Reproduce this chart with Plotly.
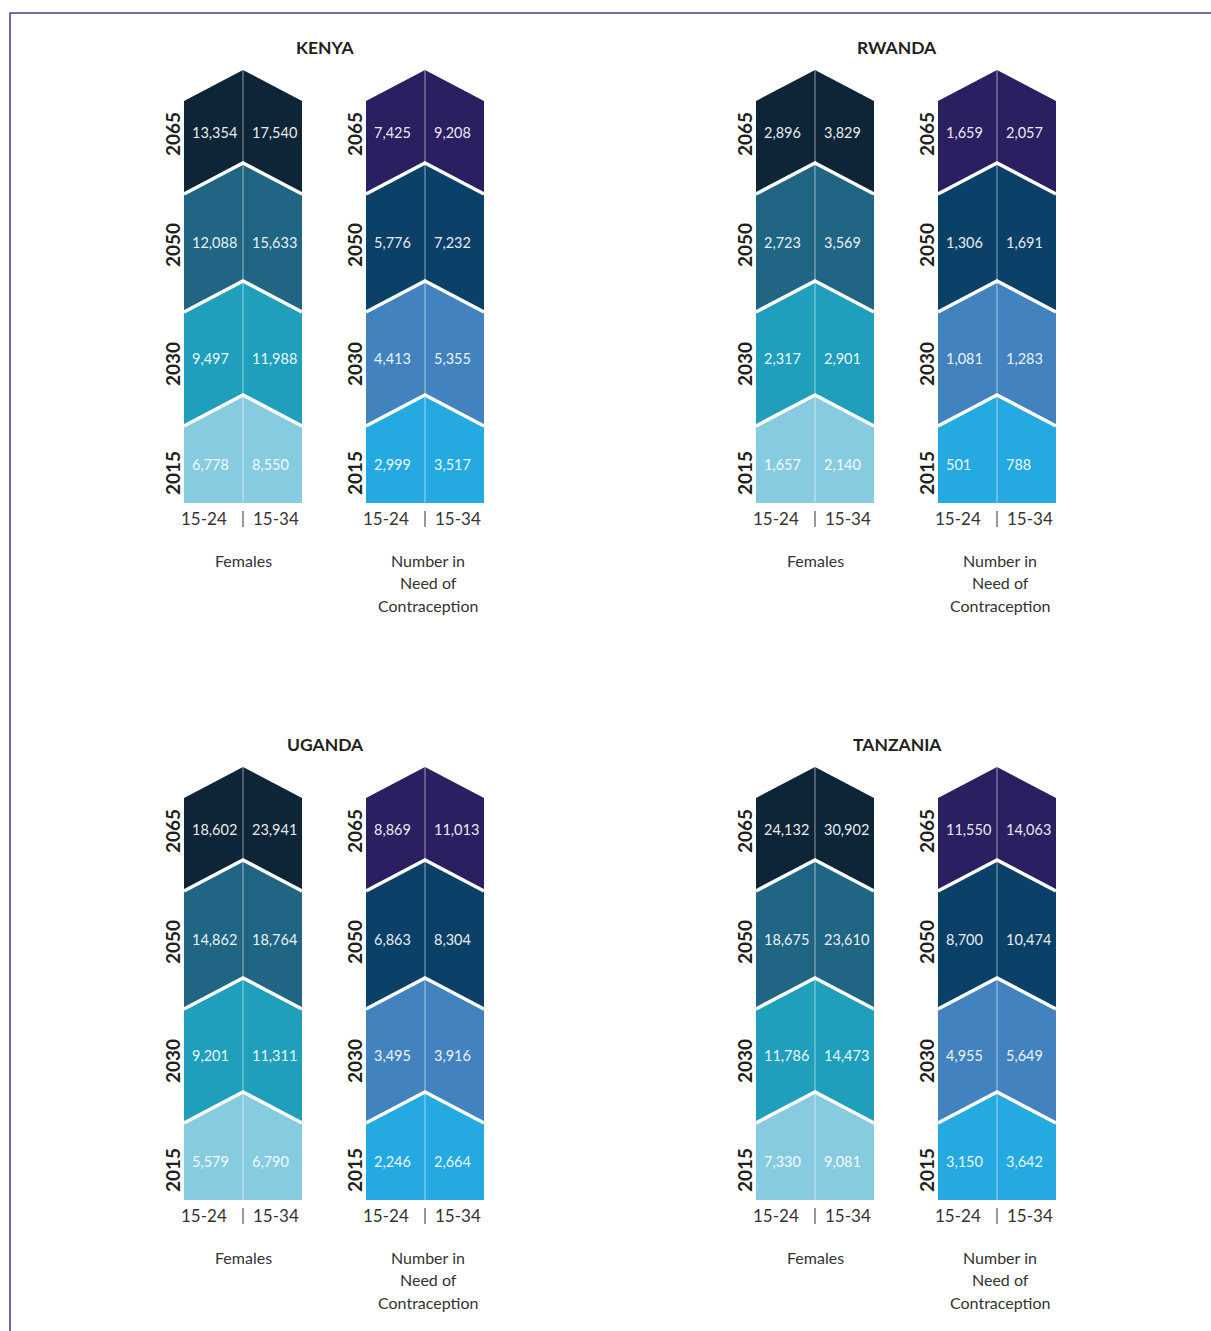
import plotly.graph_objects as go

# ---------------- data ----------------
countries = ["KENYA", "RWANDA", "UGANDA", "TANZANIA"]
years = ["2065", "2050", "2030", "2015"]
age_groups = ["15-24", "15-34"]
column_titles = ["Females", "Number in<br>Need of<br>Contraception"]

kenya_females_15_24 = [13354, 12088, 9497, 6778]
kenya_females_15_34 = [17540, 15633, 11988, 8550]
kenya_need_15_24 = [7425, 5776, 4413, 2999]
kenya_need_15_34 = [9208, 7232, 5355, 3517]

rwanda_females_15_24 = [2896, 2723, 2317, 1657]
rwanda_females_15_34 = [3829, 3569, 2901, 2140]
rwanda_need_15_24 = [1659, 1306, 1081, 501]
rwanda_need_15_34 = [2057, 1691, 1283, 788]

uganda_females_15_24 = [18602, 14862, 9201, 5579]
uganda_females_15_34 = [23941, 18764, 11311, 6790]
uganda_need_15_24 = [8869, 6863, 3495, 2246]
uganda_need_15_34 = [11013, 8304, 3916, 2664]

tanzania_females_15_24 = [24132, 18675, 11786, 7330]
tanzania_females_15_34 = [30902, 23610, 14473, 9081]
tanzania_need_15_24 = [11550, 8700, 4955, 3150]
tanzania_need_15_34 = [14063, 10474, 5649, 3642]

females_colors = ["#0e2538", "#206684", "#1f9fbb", "#86cbe0"]
need_colors = ["#2a1f60", "#0b4168", "#4282be", "#24a9e1"]

panel_data = {
    "KENYA": [(kenya_females_15_24, kenya_females_15_34), (kenya_need_15_24, kenya_need_15_34)],
    "RWANDA": [(rwanda_females_15_24, rwanda_females_15_34), (rwanda_need_15_24, rwanda_need_15_34)],
    "UGANDA": [(uganda_females_15_24, uganda_females_15_34), (uganda_need_15_24, uganda_need_15_34)],
    "TANZANIA": [(tanzania_females_15_24, tanzania_females_15_34), (tanzania_need_15_24, tanzania_need_15_34)],
}

# ---------------- layout geometry ----------------
W, H = 1211, 1331
FONT = "Lato, 'Noto Sans', sans-serif"
panel_origin = {"KENYA": (184, 0), "RWANDA": (756, 0), "UGANDA": (184, 697), "TANZANIA": (756, 697)}
title_x_off = 141
col_w = 118
col_gap = 182
tips = [70, 163, 281, 395]
depth = 31
bottom = 503
value_y = [132, 242, 358, 464]
year_y = [134, 245, 364, 473]

fig = go.Figure()
annotations = []


def add_poly(xs, ys, color):
    fig.add_trace(go.Scatter(x=xs, y=ys, mode="lines", fill="toself", fillcolor=color,
                             line=dict(width=0, color=color), hoverinfo="skip", showlegend=False))


def add_line(xs, ys, color, width):
    fig.add_trace(go.Scatter(x=xs, y=ys, mode="lines", line=dict(width=width, color=color),
                             hoverinfo="skip", showlegend=False))


def text(x, y, s, size, color="#231f20", bold=False, xanchor="center", angle=0):
    annotations.append(dict(x=x, y=y, xref="x", yref="y", text=(f"<b>{s}</b>" if bold else s),
                            showarrow=False, xanchor=xanchor, yanchor="middle", textangle=angle,
                            font=dict(family=FONT, size=size, color=color)))


for country in countries:
    ox, oy = panel_origin[country]
    text(ox + title_x_off, oy + 47, country, 17.5, bold=True)
    for ci, (vals_a, vals_b) in enumerate(panel_data[country]):
        L = ox + ci * col_gap
        R = L + col_w
        C = L + col_w / 2
        colors = females_colors if ci == 0 else need_colors
        for k in range(4):
            t = oy + tips[k]
            top = [(L, t + depth), (C, t), (R, t + depth)]
            if k < 3:
                t2 = oy + tips[k + 1]
                low = [(R, t2 + depth), (C, t2), (L, t2 + depth)]
            else:
                low = [(R, oy + bottom), (L, oy + bottom)]
            pts = top + low
            add_poly([p[0] for p in pts] + [pts[0][0]], [p[1] for p in pts] + [pts[0][1]], colors[k])
        # center divider
        add_line([C, C], [oy + tips[0], oy + bottom], "rgba(255,255,255,0.55)", 1)
        # white chevron separators
        for k in range(1, 4):
            t = oy + tips[k]
            add_line([L, C, R], [t + depth, t, t + depth], "#ffffff", 3.5)
        # values & years
        for k in range(4):
            text(L + 6, oy + value_y[k], f"{vals_a[k]:,}", 14.5, color="rgba(255,255,255,0.93)", xanchor="left")
            text(C + 7, oy + value_y[k], f"{vals_b[k]:,}", 14.5, color="rgba(255,255,255,0.93)", xanchor="left")
            text(L - 12, oy + year_y[k], years[k], 19, bold=True, angle=-90)
        # age labels
        text(C - 14, oy + 518, age_groups[0], 17, color="#333333", xanchor="right")
        text(C + 8, oy + 518, age_groups[1], 17, color="#333333", xanchor="left")
        add_line([C, C], [oy + 511, oy + 527], "#333333", 1)
        # column title
        if ci == 0:
            text(C, oy + 560, column_titles[0], 16, color="#333333")
        else:
            for li, line in enumerate(column_titles[1].split("<br>")):
                text(C + 3, oy + 560 + li * 22.5, line, 16, color="#333333")

# frame lines
add_line([10, 10, W], [H, 13, 13], "#44448a", 1.6)

fig.update_layout(
    width=W, height=H, margin=dict(l=0, r=0, t=0, b=0),
    paper_bgcolor="white", plot_bgcolor="white",
    xaxis=dict(range=[0, W], visible=False, fixedrange=True),
    yaxis=dict(range=[H, 0], visible=False, fixedrange=True),
    annotations=annotations, showlegend=False,
)

fig.write_html("out.html", post_script="document.body.style.margin='0';document.body.style.overflow='hidden';",
               config={"displayModeBar": False})
